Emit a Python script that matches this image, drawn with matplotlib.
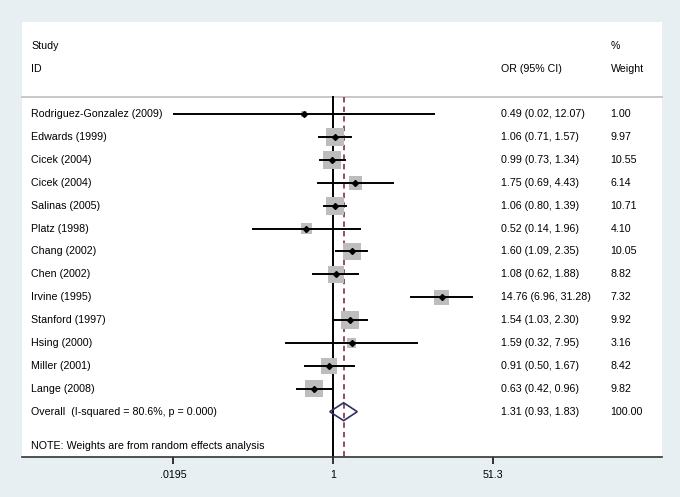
import matplotlib
matplotlib.use("Agg")
import matplotlib.pyplot as plt
import matplotlib.transforms as mtransforms
import numpy as np

plt.rcParams['font.family'] = ['Liberation Sans', 'DejaVu Sans']

studies = ["Rodriguez-Gonzalez (2009)", "Edwards (1999)", "Cicek (2004)", "Cicek (2004)",
           "Salinas (2005)", "Platz (1998)", "Chang (2002)", "Chen (2002)", "Irvine (1995)",
           "Stanford (1997)", "Hsing (2000)", "Miller (2001)", "Lange (2008)"]
odds = [0.49, 1.06, 0.99, 1.75, 1.06, 0.52, 1.60, 1.08, 14.76, 1.54, 1.59, 0.91, 0.63]
lower = [0.02, 0.71, 0.73, 0.69, 0.80, 0.14, 1.09, 0.62, 6.96, 1.03, 0.32, 0.50, 0.42]
upper = [12.07, 1.57, 1.34, 4.43, 1.39, 1.96, 2.35, 1.88, 31.28, 2.30, 7.95, 1.67, 0.96]
weights = [1.00, 9.97, 10.55, 6.14, 10.71, 4.10, 10.05, 8.82, 7.32, 9.92, 3.16, 8.42, 9.82]
overall_label = "Overall  (I-squared = 80.6%, p = 0.000)"
overall = (1.31, 0.93, 1.83)
overall_weight = "100.00"
tick_vals = [0.0195, 1, 51.3]
tick_labels = [".0195", "1", "51.3"]

W, H, DPI = 680, 497, 100
fig = plt.figure(figsize=(W / DPI, H / DPI), dpi=DPI)
fig.patch.set_facecolor("#e8eff2")

left_px, right_px, top_px, bot_px = 22, 662, 22, 457
ax = fig.add_axes([left_px / W, (H - bot_px) / H, (right_px - left_px) / W, (bot_px - top_px) / H])
ax.set_facecolor("white")

x1px, ppd = 332.7, 93.48
ax.set_xscale("log")
ax.set_xlim(10 ** ((left_px - x1px) / ppd), 10 ** ((right_px - x1px) / ppd))
y0px, rowpx = 114.0, 22.9
ax.set_ylim((bot_px - y0px) / rowpx, (top_px - y0px) / rowpx)

for s in ["top", "right", "left"]:
    ax.spines[s].set_visible(False)
ax.spines["bottom"].set_color("#333333")
ax.spines["bottom"].set_linewidth(1.2)
ax.set_yticks([])
ax.set_xticks(tick_vals)
ax.set_xticklabels(tick_labels)
ax.xaxis.set_minor_locator(matplotlib.ticker.NullLocator())
fs = 7.7
ax.tick_params(axis="x", direction="out", length=5, width=1.3, color="#222222",
               labelsize=fs, pad=4)

trans = mtransforms.blended_transform_factory(ax.transAxes, ax.transData)
x_study, x_or, x_w = (31 - left_px) / 640, (501 - left_px) / 640, (610.7 - left_px) / 640

sep_y = (97 - y0px) / rowpx
ax.plot([0, 1], [sep_y, sep_y], transform=trans, color="#c8c8c8", lw=1.4, clip_on=False)

ybot = (bot_px - y0px) / rowpx
ax.plot([1, 1], [sep_y, ybot], color="black", lw=1.4, zorder=2)
ax.plot([overall[0], overall[0]], [sep_y, ybot], color="#8c3f55", lw=1.3,
        ls=(0, (3, 2.3)), zorder=2)

ax.text(x_study, (46 - y0px) / rowpx, "Study", transform=trans, fontsize=fs, va="center")
ax.text(x_study, (69 - y0px) / rowpx, "ID", transform=trans, fontsize=fs, va="center")
ax.text(x_or, (69 - y0px) / rowpx, "OR (95% CI)", transform=trans, fontsize=fs, va="center")
ax.text(x_w, (46 - y0px) / rowpx, "%", transform=trans, fontsize=fs, va="center")
ax.text(x_w, (69 - y0px) / rowpx, "Weight", transform=trans, fontsize=fs, va="center")

rows = np.arange(len(studies))
box_side_pt = [5.55 * np.sqrt(w) * 72 / DPI for w in weights]
ax.scatter(odds, rows, marker="s", s=[b ** 2 for b in box_side_pt], color="#bdbdbd",
           linewidths=0, zorder=3)
for i in rows:
    ax.plot([lower[i], upper[i]], [i, i], color="black", lw=1.4, zorder=4)
    ax.text(x_study, i, studies[i], transform=trans, fontsize=fs, va="center")
    ax.text(x_or, i, f"{odds[i]:.2f} ({lower[i]:.2f}, {upper[i]:.2f})", transform=trans,
            fontsize=fs, va="center")
    ax.text(x_w, i, f"{weights[i]:.2f}", transform=trans, fontsize=fs, va="center")
ax.plot(odds, rows, ls="none", marker="D", ms=3.0, color="black", zorder=5)

yo = len(studies)
hh = 0.39
ax.fill([overall[1], overall[0], overall[2], overall[0]], [yo, yo - hh, yo, yo + hh],
        facecolor="none", edgecolor="#2e3160", lw=1.2, zorder=5)
ax.text(x_study, yo, overall_label, transform=trans, fontsize=fs, va="center")
ax.text(x_or, yo, f"{overall[0]:.2f} ({overall[1]:.2f}, {overall[2]:.2f})", transform=trans,
        fontsize=fs, va="center")
ax.text(x_w, yo, overall_weight, transform=trans, fontsize=fs, va="center")

ax.text(x_study, (446 - y0px) / rowpx, "NOTE: Weights are from random effects analysis",
        transform=trans, fontsize=fs, va="center")

fig.savefig("out.png", dpi=DPI, facecolor=fig.get_facecolor())
